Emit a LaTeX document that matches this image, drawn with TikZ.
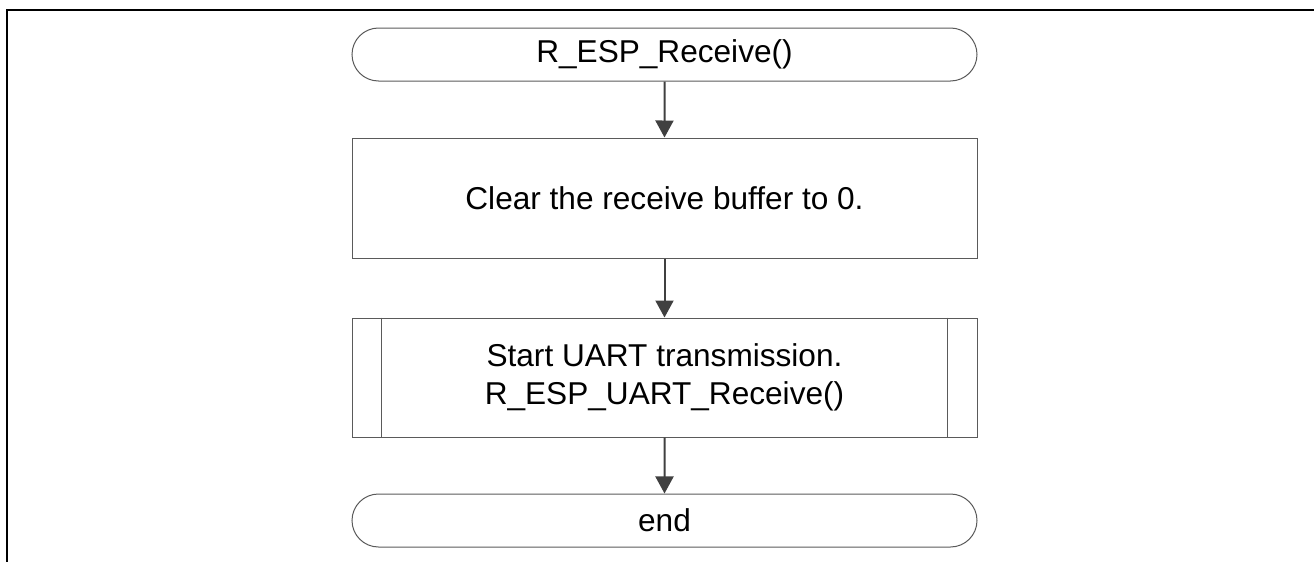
\documentclass[tikz,border=0pt]{standalone}
\usepackage{fontspec}
\setmainfont{Liberation Sans}
\usetikzlibrary{shapes.misc,arrows.meta}

\definecolor{boxline}{RGB}{90,90,90}
\definecolor{flowarrow}{RGB}{64,64,64}

\tikzset{
  terminal/.style={rounded rectangle,draw=boxline,line width=0.5pt,
    minimum width=312.5pt,minimum height=26.5pt,inner sep=0pt},
  process/.style={rectangle,draw=boxline,line width=0.5pt,
    minimum width=312.5pt,minimum height=60pt,inner sep=0pt,align=center},
  subproc/.style={process,minimum height=59.5pt},
  flow/.style={-{Triangle[length=8.5pt,width=9pt]},line width=1pt,draw=flowarrow}
}

\begin{document}
\begin{tikzpicture}[x=0.5pt,y=-0.5pt,font=\fontsize{15.8}{19}\selectfont]
    \useasboundingbox (0,0) rectangle (1314,562);
    % frame
    \draw[line width=1pt] (7,562) -- (7,10) -- (1314,10);

    \node[terminal] (start) at (664.5,54.5) {R\_ESP\_Receive()};
    \node[process] (clear) at (664.5,198) {Clear the receive buffer to 0.};
    \node[subproc] (uart) at (664.5,377.5) {Start UART transmission.\\R\_ESP\_UART\_Receive()};
    \node[terminal] (stop) at (664.5,520.5) {end};

    % side bars of the sub-process box
    \draw[boxline,line width=0.5pt] ([xshift=15pt]uart.north west) -- ([xshift=15pt]uart.south west);
    \draw[boxline,line width=0.5pt] ([xshift=-15pt]uart.north east) -- ([xshift=-15pt]uart.south east);

    \draw[flow] (start) -- (clear);
    \draw[flow] (clear) -- (uart);
    \draw[flow] (uart) -- (stop);
  \end{tikzpicture}
\end{document}
